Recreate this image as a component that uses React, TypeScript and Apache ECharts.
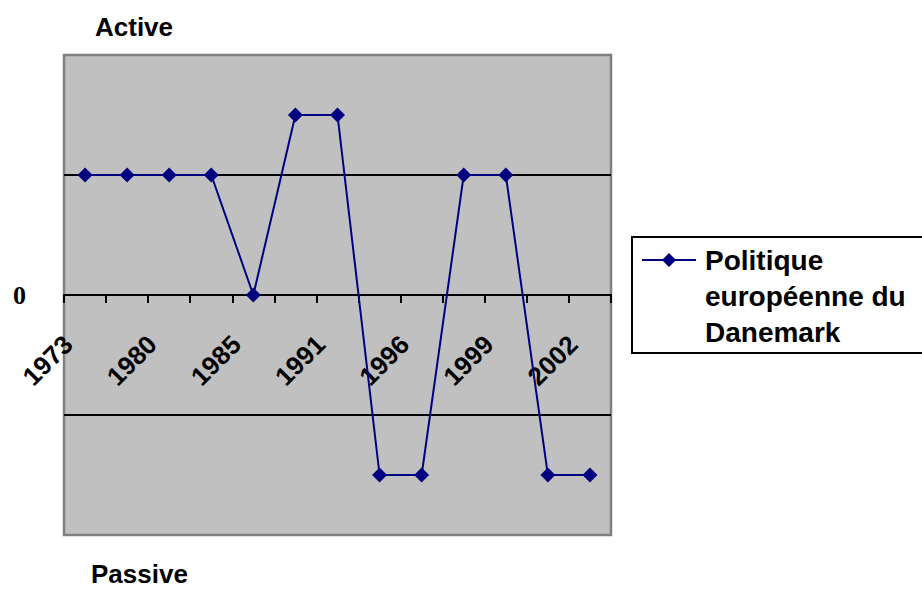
import React, { useEffect, useRef } from 'react';
import * as echarts from 'echarts';

const years = ['1973', '1977', '1980', '1983', '1985', '1988', '1991', '1993', '1996', '1998', '1999', '2000', '2002'];
const values = [1, 1, 1, 1, 0, 1.5, 1.5, -1.5, -1.5, 1, 1, -1.5, -1.5];
const seriesName = 'Politique européenne du Danemark';
const legendLines = ['Politique', 'européenne du', 'Danemark'];
const yTickValues = [-2, -1, 0, 1, 2];
const yTickLabels = ['', '', '0', '', ''];
const topLabel = 'Active';
const bottomLabel = 'Passive';

const SANS = 'Liberation Sans, Arial, sans-serif';
const SERIF = 'Liberation Serif, Times New Roman, serif';

export default function App() {
  const ref = useRef<HTMLDivElement>(null);
  useEffect(() => {
    document.body.style.margin = '0';
    const chart = echarts.init(ref.current!, null, { renderer: 'svg' });
    chart.setOption({
      animation: false,
      backgroundColor: '#ffffff',
      title: [
        {
          text: topLabel,
          left: 95,
          top: 16,
          padding: 0,
          textStyle: { fontFamily: SANS, fontWeight: 'bold', fontSize: 26, lineHeight: 22, color: '#000' },
        },
        {
          text: bottomLabel,
          left: 91,
          top: 563,
          padding: 0,
          textStyle: { fontFamily: SANS, fontWeight: 'bold', fontSize: 26, lineHeight: 22, color: '#000' },
        },
      ],
      grid: {
        left: 64,
        right: 311,
        top: 55,
        bottom: 55,
        containLabel: false,
        outerBoundsMode: 'none',
        show: true,
        backgroundColor: '#c0c0c0',
        borderColor: '#808080',
        borderWidth: 2.5,
      },
      legend: {
        show: true,
        orient: 'vertical',
        left: 632,
        top: 237,
        padding: [5, 20, 3, 10],
        borderColor: '#000',
        borderWidth: 2,
        selectedMode: false,
        itemWidth: 58,
        itemHeight: 108,
        icon: 'path://M0 0 M58 108 M0 17 L54 17 L54 19 L0 19 Z M27 11 L34 18 L27 25 L20 18 Z',
        itemStyle: { borderWidth: 0 },
        formatter: () => legendLines.join('\n'),
        textStyle: { fontFamily: SANS, fontWeight: 'bold', fontSize: 28, lineHeight: 36, color: '#000' },
        data: [seriesName],
      },
      xAxis: {
        type: 'category',
        data: years,
        boundaryGap: true,
        position: 'bottom',
        offset: -240,
        axisLine: { show: true, onZero: false, lineStyle: { color: '#000', width: 2 } },
        axisTick: { show: true, interval: 0, length: 8, inside: false, lineStyle: { color: '#000', width: 2 } },
        axisLabel: {
          interval: 1,
          rotate: 45,
          margin: 28,
          padding: [0, 24, 0, 0],
          fontFamily: SANS,
          fontWeight: 'bold',
          fontSize: 26,
          color: '#000',
        },
        splitLine: { show: false },
      },
      yAxis: {
        type: 'value',
        min: yTickValues[0],
        max: yTickValues[yTickValues.length - 1],
        interval: 1,
        axisLine: { show: false },
        axisTick: { show: false },
        axisLabel: {
          margin: 38,
          fontFamily: SERIF,
          fontWeight: 'bold',
          fontSize: 26,
          color: '#000',
          formatter: (v: number) => {
            const i = yTickValues.indexOf(v);
            return i >= 0 ? yTickLabels[i] : '';
          },
        },
        splitLine: { show: true, showMinLine: false, showMaxLine: false, lineStyle: { color: '#000', width: 2 } },
      },
      series: [
        {
          name: seriesName,
          type: 'line',
          data: values,
          symbol: 'diamond',
          symbolSize: 15,
          lineStyle: { color: '#000080', width: 2 },
          itemStyle: { color: '#000080', borderWidth: 0 },
          z: 5,
        },
      ],
    });
    return () => chart.dispose();
  }, []);
  return <div ref={ref} style={{ width: 922, height: 590 }} />;
}
